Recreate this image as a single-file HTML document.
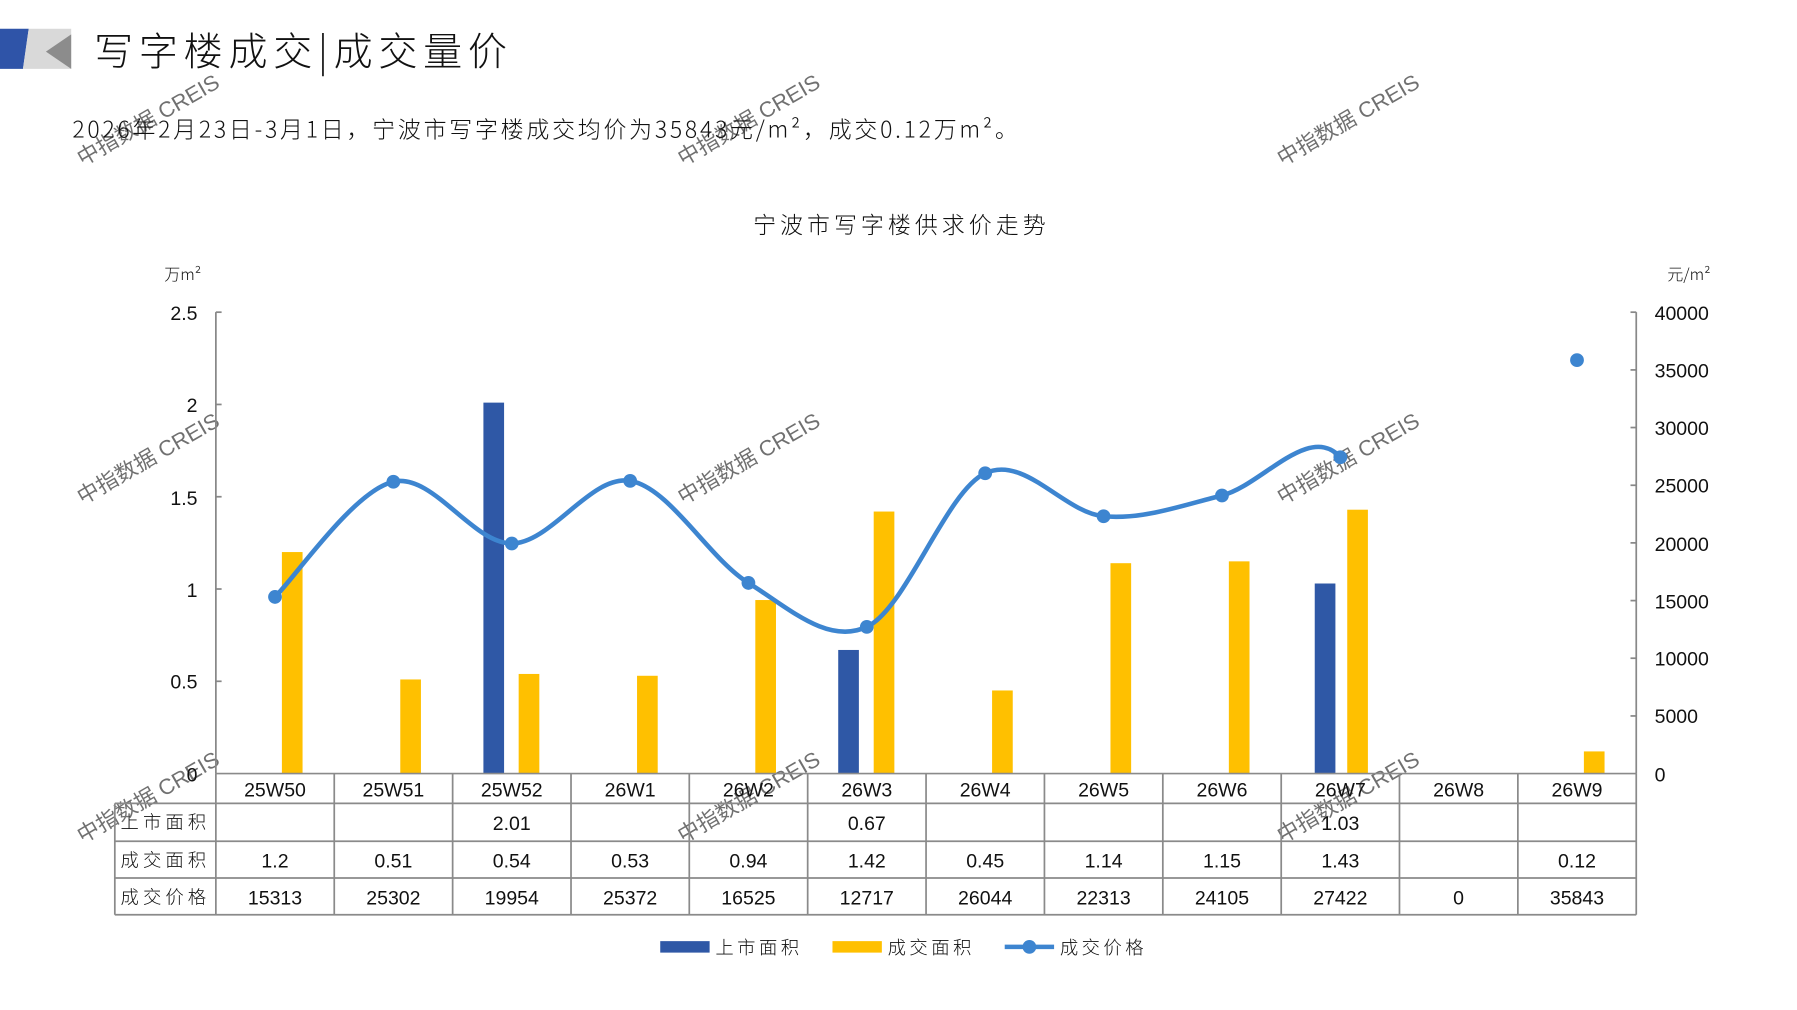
<!DOCTYPE html>
<html><head><meta charset="utf-8"><style>
html,body{margin:0;padding:0;background:#fff;overflow:hidden}
svg{display:block}
text{font-family:"Liberation Sans","Noto Sans CJK SC",sans-serif;fill:#111}
.cj{font-family:"Noto Sans CJK SC",sans-serif;font-weight:300}
.wm{fill:#dcdcdc;font-size:19px;font-family:"Liberation Sans","Noto Sans CJK SC",sans-serif}
</style></head><body>
<svg width="1797" height="1010" viewBox="0 0 1565 880" preserveAspectRatio="none" xmlns="http://www.w3.org/2000/svg">
<g class="wm" opacity="0.6">
<text transform="translate(72,145) rotate(-30)">中指数据 CREIS</text>
<text transform="translate(595,145) rotate(-30)">中指数据 CREIS</text>
<text transform="translate(1117,145) rotate(-30)">中指数据 CREIS</text>
<text transform="translate(72,440) rotate(-30)">中指数据 CREIS</text>
<text transform="translate(595,440) rotate(-30)">中指数据 CREIS</text>
<text transform="translate(1117,440) rotate(-30)">中指数据 CREIS</text>
<text transform="translate(72,735) rotate(-30)">中指数据 CREIS</text>
<text transform="translate(595,735) rotate(-30)">中指数据 CREIS</text>
<text transform="translate(1117,735) rotate(-30)">中指数据 CREIS</text>
</g>
<polygon points="0,25 25,25 20,60 0,60" fill="#2f54a8"/>
<polygon points="25,25 62,25 62,60 20,60" fill="#d9d9d9"/>
<polygon points="40,45 62,30 62,60" fill="#8c8c8c"/>
<text x="82" y="57" font-size="34" class="cj" letter-spacing="5">写字楼成交|成交量价</text>
<text x="63" y="120" font-size="20" class="cj" letter-spacing="2.4">2026年2月23日-3月1日，宁波市写字楼成交均价为35843元/m²，成交0.12万m²。</text>
<text x="785" y="203" font-size="20" text-anchor="middle" class="cj" letter-spacing="3.5">宁波市写字楼供求价走势</text>
<text x="143" y="244" font-size="14" class="cj">万m²</text>
<text x="1452" y="244" font-size="14" class="cj">元/m²</text>
<g stroke="#888" stroke-width="1.5">
<line x1="188" y1="272" x2="188" y2="674"/>
<line x1="1425" y1="272" x2="1425" y2="674"/>
<line x1="188" y1="272" x2="193" y2="272"/><line x1="188" y1="352.4" x2="193" y2="352.4"/><line x1="188" y1="432.8" x2="193" y2="432.8"/><line x1="188" y1="513.2" x2="193" y2="513.2"/><line x1="188" y1="593.6" x2="193" y2="593.6"/>
<line x1="1420" y1="272" x2="1425" y2="272"/><line x1="1420" y1="322.3" x2="1425" y2="322.3"/><line x1="1420" y1="372.5" x2="1425" y2="372.5"/><line x1="1420" y1="422.8" x2="1425" y2="422.8"/><line x1="1420" y1="473" x2="1425" y2="473"/><line x1="1420" y1="523.3" x2="1425" y2="523.3"/><line x1="1420" y1="573.5" x2="1425" y2="573.5"/><line x1="1420" y1="623.8" x2="1425" y2="623.8"/>
</g>
<g font-size="17" text-anchor="end">
<text x="172" y="279">2.5</text><text x="172" y="359">2</text><text x="172" y="440">1.5</text><text x="172" y="520">1</text><text x="172" y="600">0.5</text><text x="172" y="681">0</text>
</g>
<g font-size="17">
<text x="1441" y="279">40000</text><text x="1441" y="329">35000</text><text x="1441" y="379">30000</text><text x="1441" y="429">25000</text><text x="1441" y="480">20000</text><text x="1441" y="530">15000</text><text x="1441" y="580">10000</text><text x="1441" y="630">5000</text><text x="1441" y="681">0</text>
</g>
<g fill="#2f58a6">
<rect x="421" y="350.8" width="18" height="323.2"/>
<rect x="730" y="566.3" width="18" height="107.7"/>
<rect x="1145" y="508.4" width="18" height="165.6"/>
</g>
<g fill="#ffc000">
<rect x="245.5" y="481" width="18" height="193"/>
<rect x="348.6" y="592" width="18" height="82"/>
<rect x="451.7" y="587.2" width="18" height="86.8"/>
<rect x="554.8" y="588.8" width="18" height="85.2"/>
<rect x="657.8" y="522.8" width="18" height="151.2"/>
<rect x="760.9" y="445.7" width="18" height="228.3"/>
<rect x="864" y="601.6" width="18" height="72.4"/>
<rect x="967.1" y="490.7" width="18" height="183.3"/>
<rect x="1070.2" y="489.1" width="18" height="184.9"/>
<rect x="1173.3" y="444.1" width="18" height="229.9"/>
<rect x="1379.4" y="654.7" width="18" height="19.3"/>
</g>
<path d="M239.5,520.1 C256.7,503.4 308.2,427.5 342.6,419.7 C377,411.9 411.3,473.6 445.7,473.5 C480.1,473.4 514.4,413.3 548.8,419 C583.2,424.7 617.4,486.7 651.8,507.9 C686.2,529.1 720.5,562.2 754.9,546.2 C789.3,530.2 823.6,428.4 858,412.3 C892.4,396.2 926.7,446.6 961.1,449.8 C995.5,453 1029.8,440.3 1064.2,431.7 C1098.6,423.1 1140,368 1167.3,398.4" fill="none" stroke="#3d85d0" stroke-width="4"/>
<g fill="#3d85d0">
<circle cx="239.5" cy="520.1" r="6"/><circle cx="342.6" cy="419.7" r="6"/><circle cx="445.7" cy="473.5" r="6"/><circle cx="548.8" cy="419" r="6"/><circle cx="651.8" cy="507.9" r="6"/><circle cx="754.9" cy="546.2" r="6"/><circle cx="858" cy="412.3" r="6"/><circle cx="961.1" cy="449.8" r="6"/><circle cx="1064.2" cy="431.7" r="6"/><circle cx="1167.3" cy="398.4" r="6"/><circle cx="1373.4" cy="313.8" r="6"/>
</g>
<g stroke="#8a8a8a" stroke-width="1.5" fill="none">
<line x1="188" y1="674" x2="1425" y2="674"/>
<line x1="100" y1="700" x2="1425" y2="700"/>
<line x1="100" y1="733" x2="1425" y2="733"/>
<line x1="100" y1="765" x2="1425" y2="765"/>
<line x1="100" y1="797" x2="1425" y2="797"/>
<line x1="100" y1="700" x2="100" y2="797"/>
<line x1="188" y1="674" x2="188" y2="797"/>
<line x1="291.1" y1="674" x2="291.1" y2="797"/><line x1="394.2" y1="674" x2="394.2" y2="797"/><line x1="497.3" y1="674" x2="497.3" y2="797"/><line x1="600.3" y1="674" x2="600.3" y2="797"/><line x1="703.4" y1="674" x2="703.4" y2="797"/><line x1="806.5" y1="674" x2="806.5" y2="797"/><line x1="909.6" y1="674" x2="909.6" y2="797"/><line x1="1012.7" y1="674" x2="1012.7" y2="797"/><line x1="1115.8" y1="674" x2="1115.8" y2="797"/><line x1="1218.8" y1="674" x2="1218.8" y2="797"/><line x1="1321.9" y1="674" x2="1321.9" y2="797"/>
<line x1="1425" y1="674" x2="1425" y2="797"/>
</g>
<g font-size="17" text-anchor="middle">
<text x="239.5" y="694">25W50</text><text x="342.6" y="694">25W51</text><text x="445.7" y="694">25W52</text><text x="548.8" y="694">26W1</text><text x="651.8" y="694">26W2</text><text x="754.9" y="694">26W3</text><text x="858" y="694">26W4</text><text x="961.1" y="694">26W5</text><text x="1064.2" y="694">26W6</text><text x="1167.3" y="694">26W7</text><text x="1270.3" y="694">26W8</text><text x="1373.4" y="694">26W9</text>
<text x="445.7" y="723">2.01</text><text x="754.9" y="723">0.67</text><text x="1167.3" y="723">1.03</text>
<text x="239.5" y="756">1.2</text><text x="342.6" y="756">0.51</text><text x="445.7" y="756">0.54</text><text x="548.8" y="756">0.53</text><text x="651.8" y="756">0.94</text><text x="754.9" y="756">1.42</text><text x="858" y="756">0.45</text><text x="961.1" y="756">1.14</text><text x="1064.2" y="756">1.15</text><text x="1167.3" y="756">1.43</text><text x="1373.4" y="756">0.12</text>
<text x="239.5" y="788">15313</text><text x="342.6" y="788">25302</text><text x="445.7" y="788">19954</text><text x="548.8" y="788">25372</text><text x="651.8" y="788">16525</text><text x="754.9" y="788">12717</text><text x="858" y="788">26044</text><text x="961.1" y="788">22313</text><text x="1064.2" y="788">24105</text><text x="1167.3" y="788">27422</text><text x="1270.3" y="788">0</text><text x="1373.4" y="788">35843</text>
</g>
<g font-size="16" class="cj" letter-spacing="3.5">
<text x="105" y="722">上市面积</text><text x="105" y="755">成交面积</text><text x="105" y="787">成交价格</text>
</g>
<rect x="575" y="820" width="43" height="10" fill="#2f58a6"/>
<text x="623" y="831" font-size="16" class="cj" letter-spacing="3">上市面积</text>
<rect x="725" y="820" width="43" height="10" fill="#ffc000"/>
<text x="773" y="831" font-size="16" class="cj" letter-spacing="3">成交面积</text>
<line x1="875" y1="825" x2="918" y2="825" stroke="#3d85d0" stroke-width="4"/>
<circle cx="896.5" cy="825" r="6" fill="#3d85d0"/>
<text x="923" y="831" font-size="16" class="cj" letter-spacing="3">成交价格</text>
</svg>
</body></html>
